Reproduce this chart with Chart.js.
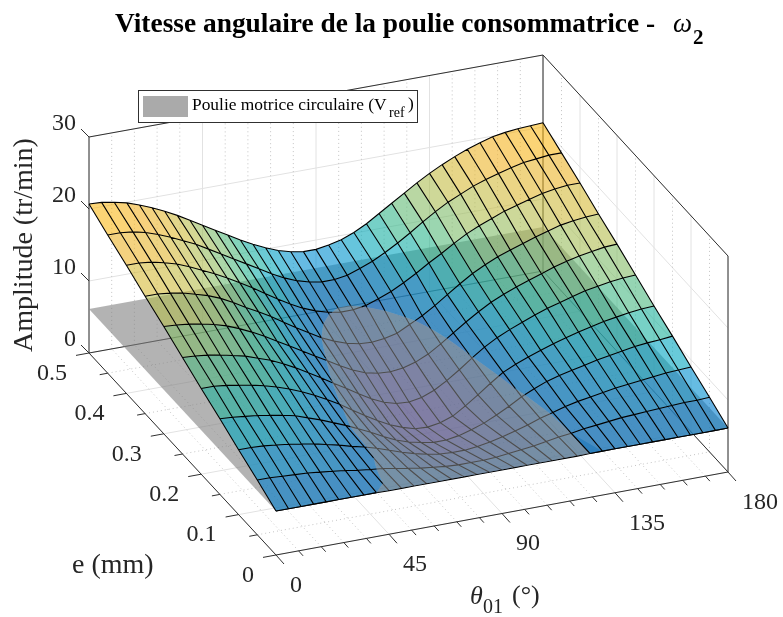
<!DOCTYPE html>
<html>
<head>
<meta charset="utf-8">
<script src="https://cdn.jsdelivr.net/npm/chart.js@4"></script>
<style>
  html, body { margin:0; padding:0; background:#fff; }
  #wrap { width:783px; height:617px; }
</style>
</head>
<body>
<div id="wrap"><canvas id="chart" width="783" height="617"></canvas></div>
<script>
// surface grid
const thetaValues = [0,5,10,15,20,25,30,35,40,45,50,55,60,65,70,75,80,85,90,95,100,105,110,115,120,125,130,135,140,145,150,155,160,165,170,175,180];
const eValues = [0,0.05,0.1,0.15,0.2,0.25,0.3,0.35,0.4,0.45,0.5];

const ampE000 = [6.1,6.1,6.1,6.1,6.1,6.1,6.1,6.1,6.1,6.05,6.05,6.05,6.05,6.05,6.05,6.05,6.05,6.05,6.05,6.05,6.05,6.05,6.05,6.05,6.05,6.1,6.1,6.1,6.1,6.1,6.1,6.1,6.1,6.1,6.1,6.1,6.1];
const ampE005 = [7.6,7.6,7.5,7.4,7.3,7.1,6.9,6.7,6.4,6.2,6.0,5.7,5.4,5.1,4.9,4.7,4.6,4.6,4.6,4.7,4.9,5.1,5.3,5.6,5.9,6.1,6.4,6.6,6.8,7.0,7.1,7.2,7.3,7.4,7.5,7.5,7.6];
const ampE010 = [9.0,9.0,8.9,8.7,8.5,8.2,7.9,7.5,7.1,6.6,6.2,5.7,5.1,4.5,4.0,3.6,3.3,3.2,3.2,3.4,3.7,4.1,4.6,5.1,5.7,6.2,6.7,7.1,7.4,7.7,8.0,8.2,8.4,8.6,8.8,8.9,9.0];
const ampE015 = [10.5,10.4,10.2,10.0,9.7,9.4,9.0,8.4,7.8,7.1,6.4,5.6,4.8,3.9,3.1,2.5,2.1,1.8,1.8,2.1,2.6,3.2,4.0,4.9,5.9,6.7,7.4,7.9,8.3,8.7,9.1,9.4,9.7,10.0,10.2,10.3,10.5];
const ampE020 = [11.9,11.9,11.7,11.4,11.1,10.7,10.2,9.6,8.9,8.1,7.2,6.2,5.1,4.0,3.0,2.1,1.4,0.9,0.8,1.1,1.7,2.8,4.0,5.3,6.5,7.3,8.0,8.6,9.2,9.7,10.2,10.6,11.0,11.3,11.6,11.8,11.9];
const ampE025 = [13.4,13.3,13.1,12.8,12.4,12.0,11.4,10.8,10.0,9.1,8.1,7.1,6.0,5.0,3.9,2.9,2.1,1.6,1.5,1.8,2.5,3.5,4.7,6.0,7.2,8.2,9.0,9.7,10.4,11.0,11.5,12.0,12.5,12.8,13.1,13.3,13.4];
const ampE030 = [14.9,14.8,14.6,14.3,13.9,13.4,12.7,11.9,11.0,10.0,9.0,8.0,7.0,6.0,5.0,4.1,3.4,3.0,2.9,3.1,3.6,4.4,5.5,6.7,7.9,9.0,10.0,10.8,11.5,12.1,12.7,13.3,13.8,14.2,14.5,14.8,14.9];
const ampE035 = [16.3,16.3,16.1,15.8,15.3,14.8,14.1,13.2,12.2,11.3,10.3,9.2,8.1,7.1,6.1,5.3,4.7,4.3,4.2,4.4,4.8,5.7,6.6,7.7,8.9,10.1,11.2,12.1,12.9,13.5,14.1,14.7,15.2,15.7,16.0,16.2,16.3];
const ampE040 = [17.8,17.8,17.6,17.2,16.7,16.0,15.2,14.4,13.5,12.5,11.5,10.4,9.3,8.3,7.4,6.7,6.2,5.9,5.9,6.2,6.8,7.5,8.4,9.4,10.5,11.5,12.6,13.6,14.4,15.1,15.8,16.3,16.8,17.3,17.6,17.8,17.8];
const ampE045 = [19.2,19.2,19.0,18.6,18.0,17.3,16.5,15.7,14.7,13.7,12.7,11.7,10.7,9.7,8.8,8.1,7.6,7.3,7.3,7.6,8.2,8.9,9.8,10.8,11.9,13.1,14.2,15.2,16.0,16.8,17.4,17.9,18.4,18.8,19.0,19.2,19.2];
const ampE050 = [20.7,20.6,20.3,19.9,19.3,18.6,17.8,16.9,15.9,14.9,13.9,12.9,11.9,11.0,10.2,9.5,9.0,8.7,8.7,9.0,9.4,10.1,11.0,12.1,13.2,14.3,15.4,16.4,17.3,18.1,18.8,19.4,19.9,20.2,20.4,20.5,20.6];
const amplitude = [ampE000,ampE005,ampE010,ampE015,ampE020,ampE025,ampE030,ampE035,ampE040,ampE045,ampE050];

const planeLevel = 6.1; // V_ref

const thetaTicks = [0,45,90,135,180];
const thetaMinor = [9,18,27,36,54,63,72,81,99,108,117,126,144,153,162,171];
const eTicks = [0,0.1,0.2,0.3,0.4,0.5];
const eMinor = [0.05,0.15,0.25,0.35,0.45];
const zTicks = [0,10,20,30];

const thetaMax = 180, eMax = 0.5, zMax = 30;

// view: where the 4 floor corners land, and pixels per unit of amplitude
const floorA = [276,555];  // theta 0, e 0
const floorB = [728,472];  // theta 180, e 0
const floorC = [89,353];   // theta 0, e .5
const floorD = [543,271];  // theta 180, e .5
const zScale = 7.2;

function project(theta, e, z){
  const t = theta/thetaMax, s = e/eMax;
  const x = (1-t)*(1-s)*floorA[0] + t*(1-s)*floorB[0] + (1-t)*s*floorC[0] + t*s*floorD[0];
  const y = (1-t)*(1-s)*floorA[1] + t*(1-s)*floorB[1] + (1-t)*s*floorC[1] + t*s*floorD[1];
  return {x, y: y - z*zScale};
}

// colour by amplitude
const colorLevels = [1,3,5,6,8,9.5,11.5,13.5,15.5,17.5,19,20.6];
const colorStops = [[50,30,197],[30,60,190],[0,85,190],[0,115,205],[0,140,210],[0,165,195],[38,182,147],[113,188,113],[180,190,80],[225,185,50],[243,178,38],[255,190,15]];
const surfaceAlpha = 0.6;

function surfaceColor(z){
  let i = 0;
  while(i < colorLevels.length-2 && z > colorLevels[i+1]) i++;
  const k = Math.min(1, Math.max(0, (z-colorLevels[i])/(colorLevels[i+1]-colorLevels[i])));
  const c = colorStops[i].map((v,j)=> Math.round(v + k*(colorStops[i+1][j]-v)));
  return `rgba(${c[0]},${c[1]},${c[2]},${surfaceAlpha})`;
}

// keep the part of a polygon above (sign 1) or below (sign -1) the plane
function clipPoly(poly, sign){
  const out = [];
  for(let i=0;i<poly.length;i++){
    const a = poly[i], b = poly[(i+1)%poly.length];
    const da = sign*(a[2]-planeLevel), db = sign*(b[2]-planeLevel);
    if(da >= 0) out.push(a);
    if(da*db < 0){
      const k = da/(da-db);
      out.push([a[0]+k*(b[0]-a[0]), a[1]+k*(b[1]-a[1]), planeLevel]);
    }
  }
  return out;
}

function polyDataset(poly, color){
  return {
    data: poly.map(p=> project(p[0],p[1],p[2])),
    backgroundColor: color, borderWidth: 0, fill: 'shape', pointRadius: 0, tension: 0
  };
}

function lineDataset(pts, color, width, dash){
  return {
    data: pts, borderColor: color, borderWidth: width, borderDash: dash || [],
    fill: false, pointRadius: 0, tension: 0, spanGaps: false, borderCapStyle: 'butt'
  };
}

const gap = {x: NaN, y: NaN};

function buildBack(){
  const major = [], minor = [], box = [], ticks = [];
  const seg = (list, a, b)=> { list.push(project(...a), project(...b), gap); };
  thetaTicks.forEach(v=> { seg(major,[v,eMax,0],[v,eMax,zMax]); seg(major,[v,0,0],[v,eMax,0]); });
  thetaMinor.forEach(v=> { seg(minor,[v,eMax,0],[v,eMax,zMax]); seg(minor,[v,0,0],[v,eMax,0]); });
  eTicks.forEach(v=> { seg(major,[thetaMax,v,0],[thetaMax,v,zMax]); seg(major,[0,v,0],[thetaMax,v,0]); });
  eMinor.forEach(v=> { seg(minor,[thetaMax,v,0],[thetaMax,v,zMax]); seg(minor,[0,v,0],[thetaMax,v,0]); });
  zTicks.forEach(v=> { seg(major,[0,eMax,v],[thetaMax,eMax,v]); seg(major,[thetaMax,eMax,v],[thetaMax,0,v]); });

  seg(box,[0,eMax,0],[0,eMax,zMax]);
  seg(box,[thetaMax,eMax,0],[thetaMax,eMax,zMax]);
  seg(box,[thetaMax,0,0],[thetaMax,0,zMax]);
  seg(box,[0,eMax,zMax],[thetaMax,eMax,zMax]);
  seg(box,[thetaMax,eMax,zMax],[thetaMax,0,zMax]);
  seg(box,[0,0,0],[thetaMax,0,0]);
  seg(box,[0,0,0],[0,eMax,0]);
  seg(box,[0,eMax,0],[thetaMax,eMax,0]);
  seg(box,[thetaMax,eMax,0],[thetaMax,0,0]);

  // tick marks, pixel length offsets
  const tick = (p,dx,dy)=> { ticks.push(p, {x:p.x+dx,y:p.y+dy}, gap); };
  zTicks.forEach(v=> tick(project(0,eMax,v),-8,-8));
  eTicks.forEach(v=> tick(project(0,v,0),-13,2.4));
  eMinor.forEach(v=> tick(project(0,v,0),-8,1.5));
  thetaTicks.forEach(v=> tick(project(v,0,0),8,9));
  thetaMinor.forEach(v=> tick(project(v,0,0),4.5,5));

  return [
    lineDataset(major,'#e2e2e2',1),
    lineDataset(minor,'#c4c4c4',1,[1,3]),
    lineDataset(box,'#303030',1),
    lineDataset(ticks,'#303030',1)
  ];
}

// mesh lines split where they cross the plane
function buildMesh(sign){
  const pts = [];
  const addLine = (nodes)=> {
    let open = false;
    for(let i=0;i<nodes.length-1;i++){
      const a = nodes[i], b = nodes[i+1];
      const da = sign*(a[2]-planeLevel), db = sign*(b[2]-planeLevel);
      if(da < 0 && db < 0){ if(open){ pts.push(gap); open=false; } continue; }
      let p = a, q = b;
      if(da < 0){ const k = da/(da-db); p = [a[0]+k*(b[0]-a[0]),a[1]+k*(b[1]-a[1]),planeLevel]; }
      if(db < 0){ const k = da/(da-db); q = [a[0]+k*(b[0]-a[0]),a[1]+k*(b[1]-a[1]),planeLevel]; }
      if(!open){ pts.push(project(...p)); open = true; }
      pts.push(project(...q));
      if(db < 0){ pts.push(gap); open = false; }
    }
    if(open) pts.push(gap);
  };
  eValues.forEach((e,r)=> addLine(thetaValues.map((th,c)=> [th,e,amplitude[r][c]])));
  thetaValues.forEach((th,c)=> addLine(eValues.map((e,r)=> [th,e,amplitude[r][c]])));
  return lineDataset(pts, '#000', 1.1);
}

function buildSurface(sign){
  const list = [];
  for(let r=0;r<eValues.length-1;r++){
    for(let c=0;c<thetaValues.length-1;c++){
      const quad = [
        [thetaValues[c],eValues[r],amplitude[r][c]],
        [thetaValues[c+1],eValues[r],amplitude[r][c+1]],
        [thetaValues[c+1],eValues[r+1],amplitude[r+1][c+1]],
        [thetaValues[c],eValues[r+1],amplitude[r+1][c]]
      ];
      const mean = (quad[0][2]+quad[1][2]+quad[2][2]+quad[3][2])/4;
      const part = clipPoly(quad, sign);
      if(part.length >= 3) list.push(polyDataset(part, surfaceColor(mean)));
    }
  }
  return list;
}

const plane = polyDataset([[0,0,planeLevel],[thetaMax,0,planeLevel],[thetaMax,eMax,planeLevel],[0,eMax,planeLevel]], 'rgba(128,128,128,0.6)');

// bottom layer first, chart.js paints the first dataset last
const layers = [
  ...buildBack(),
  ...buildSurface(-1),
  buildMesh(-1),
  plane,
  ...buildSurface(1),
  buildMesh(1)
].reverse();

const serif = '"Liberation Serif", "Times New Roman", serif';
const textColor = '#262626';

const textPlugin = {
  id: 'axisText',
  afterDraw(chart){
    const ctx = chart.ctx;
    const sx = chart.scales.x, sy = chart.scales.y;
    ctx.save();
    ctx.textBaseline = 'middle';
    ctx.fillStyle = textColor;
    ctx.font = `24px ${serif}`;

    const put = (txt, p, dx, dy, align)=> {
      ctx.textAlign = align;
      ctx.fillText(txt, sx.getPixelForValue(p.x)+dx, sy.getPixelForValue(p.y)+dy);
    };
    zTicks.forEach(v=> put(String(v), project(0,eMax,v), -13, -13, 'right'));
    eTicks.forEach(v=> put(String(v), project(0,v,0), -22, 20.5, 'right'));
    thetaTicks.forEach(v=> put(String(v), project(v,0,0), 14, 30.5, 'left'));

    // axis names
    ctx.font = `28px ${serif}`;
    ctx.textAlign = 'left';
    ctx.fillText('e (mm)', 72, 566);
    ctx.save();
    ctx.translate(25, 245);
    ctx.rotate(-Math.PI/2);
    ctx.textAlign = 'center';
    ctx.fillText('Amplitude (tr/min)', 0, 0);
    ctx.restore();

    ctx.textAlign = 'left';
    ctx.font = `italic 26px ${serif}`;
    ctx.fillText('θ', 470, 597);
    ctx.font = `20px ${serif}`;
    ctx.fillText('01', 483, 608);
    ctx.font = `26px ${serif}`;
    ctx.fillText('(°)', 512, 596);

    // title
    ctx.fillStyle = '#000';
    ctx.font = `bold 27.4px ${serif}`;
    ctx.fillText('Vitesse angulaire de la poulie consommatrice -', 115, 25);
    ctx.font = `italic 27px ${serif}`;
    ctx.fillText('ω', 673, 25);
    ctx.font = `bold 21px ${serif}`;
    ctx.fillText('2', 693, 39);

    // legend
    ctx.fillStyle = '#fff';
    ctx.fillRect(138, 90, 280, 33);
    ctx.strokeStyle = '#303030';
    ctx.lineWidth = 1;
    ctx.strokeRect(138.5, 90.5, 279, 32);
    ctx.fillStyle = '#aaaaaa';
    ctx.fillRect(143, 96, 45, 21);
    ctx.fillStyle = '#000';
    ctx.font = `17.4px ${serif}`;
    ctx.fillText('Poulie motrice circulaire (V', 192, 105);
    ctx.font = `14px ${serif}`;
    ctx.fillText('ref', 389, 113);
    ctx.font = `17.4px ${serif}`;
    ctx.fillText(')', 408, 104);
    ctx.restore();
  }
};

new Chart(document.getElementById('chart').getContext('2d'), {
  type: 'line',
  data: { datasets: layers },
  options: {
    responsive: false,
    animation: false,
    events: [],
    layout: { padding: 0 },
    plugins: { legend: { display: false }, title: { display: false }, tooltip: { enabled: false } },
    scales: {
      x: { type: 'linear', min: 0, max: 783, display: false },
      y: { type: 'linear', min: 0, max: 617, reverse: true, display: false }
    }
  },
  plugins: [textPlugin]
});
</script>
</body>
</html>
